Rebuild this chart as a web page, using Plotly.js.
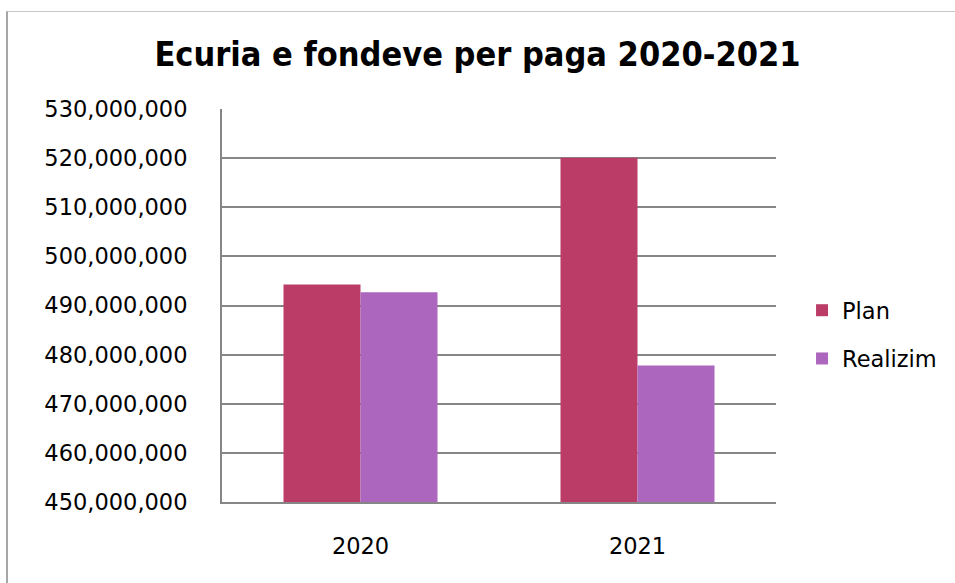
<!DOCTYPE html>
<html>
<head>
<meta charset="utf-8">
<script src="https://cdn.plot.ly/plotly-3.0.1.min.js"></script>
<style>
  html, body { margin: 0; padding: 0; background: #fff; }
  #chart { position: absolute; left: 0; top: 0; width: 955px; height: 583px; }
  #frame { position: absolute; left: 6px; top: 11px; width: 949px; height: 572px;
           border-left: 2px solid #a6a6a6; border-top: 1px solid #c8c8c8; pointer-events: none; }
</style>
</head>
<body>
<div id="chart"></div>
<div id="frame"></div>
<script>
const years = ["2020", "2021"];
const planValues = [494300000, 520100000];
const realizimValues = [492700000, 477800000];
const seriesNames = ["Plan", "Realizim"];
const chartTitle = "Ecuria e fondeve per paga 2020-2021";

const FONT = "DejaVu Sans, Verdana, sans-serif";
const TITLE_FONT = "DejaVu Sans Condensed, DejaVu Sans, sans-serif";

const traces = [
  { type: "bar", x: years, y: planValues, name: seriesNames[0], legendgroup: "a",
    marker: { color: "#BB3D67" }, hoverinfo: "y" },
  { type: "bar", x: years, y: realizimValues, name: seriesNames[1], legendgroup: "b",
    marker: { color: "#AC66BD" }, hoverinfo: "y" }
];

const layout = {
  width: 955, height: 583,
  margin: { l: 222, r: 179, t: 109, b: 81, pad: 0 },
  paper_bgcolor: "rgba(0,0,0,0)",
  plot_bgcolor: "rgba(0,0,0,0)",
  barmode: "group",
  bargap: 0.444,
  bargroupgap: 0,
  title: { text: "<b>" + chartTitle + "</b>", x: 481, xanchor: "center", xref: "container",
           y: 54, yref: "container", yanchor: "middle",
           font: { family: TITLE_FONT, size: 34, color: "#000" } },
  xaxis: {
    type: "category",
    showgrid: false,
    showline: true, linecolor: "#868686", linewidth: 2,
    ticks: "", ticklabelstandoff: 23,
    tickfont: { family: FONT, size: 22.5, color: "#000" },
    fixedrange: true
  },
  yaxis: {
    range: [450000000, 530000000],
    dtick: 10000000, tick0: 450000000,
    tickformat: ",d",
    showgrid: true, gridcolor: "#868686", gridwidth: 2,
    showline: true, linecolor: "#868686", linewidth: 2,
    zeroline: false,
    ticks: "", ticklabelstandoff: 28,
    tickfont: { family: FONT, size: 22.5, color: "#000" },
    fixedrange: true
  },
  legend: {
    x: 1.047, xanchor: "left", y: 0.426, yanchor: "middle",
    traceorder: "grouped", tracegroupgap: 16,
    itemwidth: 30,
    font: { family: FONT, size: 22.5, color: "#000" },
    bgcolor: "rgba(0,0,0,0)"
  },
  showlegend: true
};

Plotly.newPlot("chart", traces, layout, { displayModeBar: false, staticPlot: true });
</script>
</body>
</html>
